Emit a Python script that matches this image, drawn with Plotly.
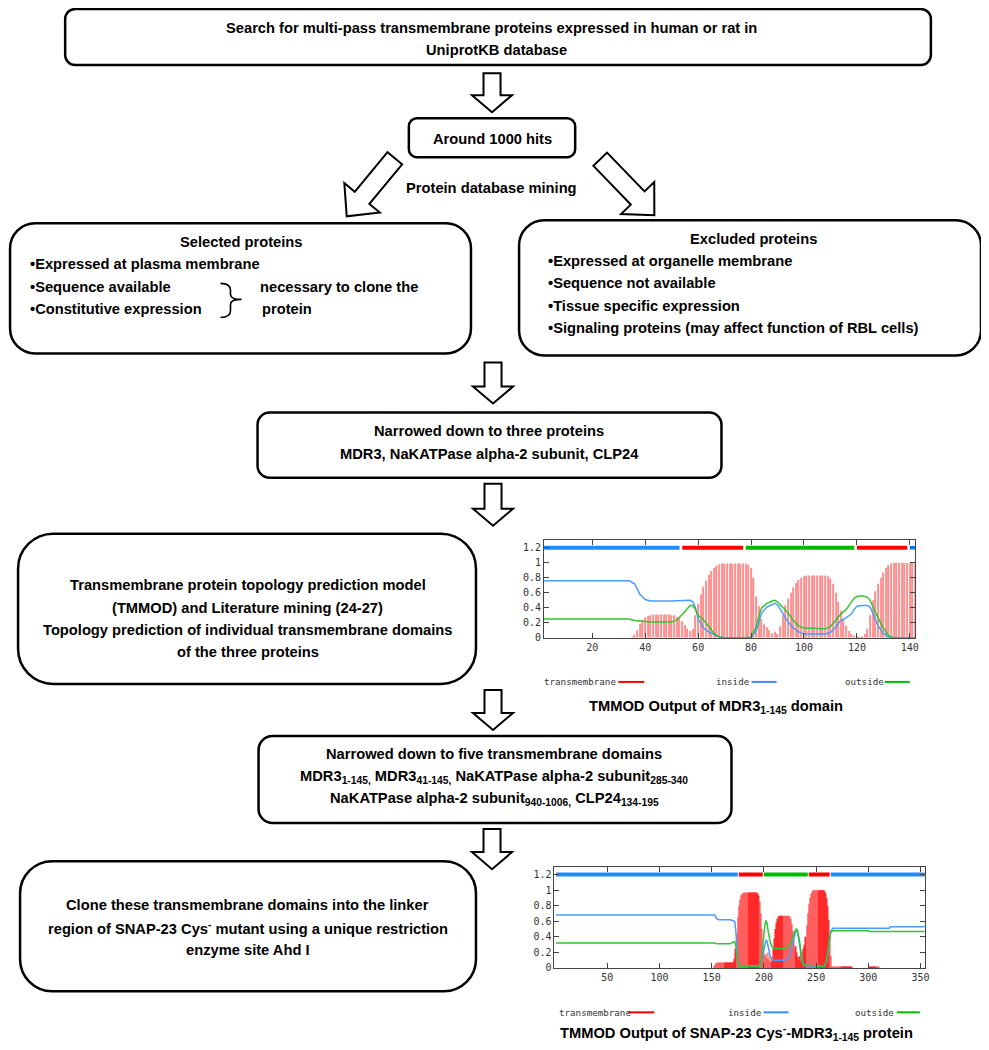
import math
import plotly.graph_objects as go

# The page is shown with an 8px body margin and a slight shrink, so the
# canvas axes are set so that layout coordinates equal picture pixels.
W, H = 989, 1050
OFF = 8
S = 989 / 995

# ---------------- TMMOD output: MDR3 1-145 ----------------
mdr3_res = list(range(1, 146))
mdr3_tm = [
    0, 0, 0, 0, 0, 0, 0, 0, 0, 0,
    0, 0, 0, 0, 0, 0, 0, 0, 0, 0,
    0, 0, 0, 0, 0, 0, 0, 0, 0, 0,
    0, 0, 0, 0, 0.01, 0.04, 0.10, 0.18, 0.24, 0.27,
    0.29, 0.30, 0.31, 0.31, 0.31, 0.31, 0.31, 0.31, 0.31, 0.30,
    0.30, 0.28, 0.26, 0.22, 0.17, 0.12, 0.09, 0.12, 0.30, 0.45,
    0.58, 0.68, 0.76, 0.84, 0.89, 0.93, 0.96, 0.98, 0.99, 0.99,
    0.99, 0.99, 0.99, 0.99, 0.99, 0.99, 0.99, 0.99, 0.97, 0.93,
    0.80, 0.55, 0.42, 0.25, 0.18, 0.14, 0.10, 0.06, 0.08, 0.05,
    0.15, 0.30, 0.43, 0.52, 0.60, 0.67, 0.73, 0.77, 0.80, 0.82,
    0.83, 0.83, 0.83, 0.83, 0.83, 0.83, 0.83, 0.83, 0.82, 0.79,
    0.72, 0.60, 0.48, 0.36, 0.25, 0.16, 0.09, 0.05, 0.03, 0.02,
    0.01, 0.02, 0.05, 0.12, 0.30, 0.50, 0.62, 0.72, 0.80, 0.87,
    0.93, 0.97, 0.99, 1.0, 1.0, 1.0, 1.0, 1.0, 1.0, 1.0,
    1.0, 1.0, 1.0, 1.0, 1.0,
]
mdr3_line_x = [1, 34, 36, 38, 40, 42, 50, 52, 54, 56,
               57, 58, 59, 60, 62, 64, 66, 68, 70, 78,
               80, 82, 83, 84, 86, 88, 89, 90, 92, 94,
               96, 98, 100, 108, 110, 112, 113, 114, 116, 118,
               119, 120, 122, 124, 125, 126, 127, 128, 130, 132,
               134, 145]
mdr3_inside = [0.76, 0.76, 0.72, 0.58, 0.51, 0.49, 0.49, 0.49, 0.50, 0.50,
               0.50, 0.48, 0.40, 0.25, 0.13, 0.08, 0.04, 0.01, 0.0, 0.0,
               0.0, 0.10, 0.22, 0.33, 0.41, 0.45, 0.46, 0.44, 0.32, 0.21,
               0.13, 0.08, 0.05, 0.05, 0.07, 0.14, 0.19, 0.23, 0.27, 0.32,
               0.38, 0.42, 0.43, 0.43, 0.41, 0.33, 0.24, 0.16, 0.06, 0.01,
               0.0, 0.0]
mdr3_outside = [0.25, 0.25, 0.23, 0.22, 0.21, 0.21, 0.21, 0.24, 0.31, 0.40,
                0.43, 0.43, 0.38, 0.30, 0.24, 0.15, 0.06, 0.01, 0.0, 0.0,
                0.01, 0.15, 0.30, 0.40, 0.46, 0.49, 0.50, 0.48, 0.40, 0.33,
                0.23, 0.16, 0.13, 0.12, 0.15, 0.24, 0.29, 0.32, 0.38, 0.48,
                0.53, 0.55, 0.56, 0.54, 0.50, 0.42, 0.34, 0.27, 0.13, 0.03,
                0.0, 0.0]
mdr3_seg_start = [1, 54, 78, 120, 140]
mdr3_seg_end = [53, 77, 119, 139, 145]
mdr3_seg_kind = ["inside", "transmembrane", "outside", "transmembrane", "inside"]

# ---------------- TMMOD output: SNAP-23 Cys- / MDR3 1-145 ----------------
snap_res = list(range(150, 316))
snap_tm = [
    0, 0, 0.02, 0.04, 0.06, 0.07, 0.07, 0.07, 0.07, 0.07,
    0.07, 0.07, 0.07, 0.07, 0.07, 0.07, 0.07, 0.07, 0.07, 0.07,
    0.07, 0.08, 0.12, 0.25, 0.45, 0.65, 0.80, 0.88, 0.93, 0.95,
    0.96, 0.97, 0.97, 0.97, 0.97, 0.97, 0.97, 0.97, 0.97, 0.97,
    0.97, 0.97, 0.97, 0.97, 0.96, 0.93, 0.85, 0.70, 0.50, 0.30,
    0.20, 0.15, 0.18, 0.12, 0.20, 0.10, 0.15, 0.08, 0.12, 0.25,
    0.38, 0.50, 0.58, 0.63, 0.66, 0.67, 0.67, 0.67, 0.67, 0.67,
    0.67, 0.67, 0.67, 0.67, 0.67, 0.66, 0.63, 0.57, 0.48, 0.36,
    0.28, 0.20, 0.14, 0.10, 0.15, 0.08, 0.20, 0.12, 0.25, 0.30,
    0.40, 0.55, 0.70, 0.82, 0.90, 0.95, 0.98, 1.0, 1.0, 1.0,
    1.0, 1.0, 1.0, 1.0, 1.0, 1.0, 1.0, 1.0, 0.99, 0.96,
    0.90, 0.80, 0.62, 0.40, 0.15, 0.02, 0.02, 0.02, 0.02, 0.02,
    0.02, 0.02, 0.02, 0.02, 0.02, 0.02, 0.02, 0.02, 0.02, 0.02,
    0.02, 0.02, 0.02, 0.02, 0.02, 0, 0, 0, 0, 0,
    0, 0, 0, 0, 0, 0, 0, 0, 0, 0,
    0, 0.02, 0.02, 0.02, 0.02, 0.02, 0.02, 0.02, 0.02, 0.02,
    0.02, 0, 0, 0, 0, 0,
]
snap_line_x = [1, 153, 155, 157, 168, 170, 172, 173, 174, 175,
               176, 177, 178, 196, 198, 200, 201, 202, 203, 204,
               206, 208, 210, 220, 224, 226, 228, 230, 231, 232,
               234, 236, 238, 258, 260, 262, 263, 264, 266, 300,
               301, 320, 321, 354]
snap_inside = [0.68, 0.68, 0.63, 0.62, 0.62, 0.61, 0.60, 0.50, 0.30, 0.12,
               0.05, 0.03, 0.03, 0.03, 0.10, 0.25, 0.33, 0.36, 0.34, 0.27,
               0.16, 0.11, 0.10, 0.10, 0.13, 0.22, 0.35, 0.45, 0.48, 0.47,
               0.32, 0.12, 0.03, 0.02, 0.08, 0.25, 0.40, 0.47, 0.51, 0.51,
               0.51, 0.51, 0.53, 0.53]
snap_outside = [0.32, 0.32, 0.31, 0.31, 0.31, 0.33, 0.34, 0.30, 0.18, 0.08,
                0.04, 0.02, 0.02, 0.02, 0.15, 0.45, 0.56, 0.61, 0.58, 0.48,
                0.34, 0.27, 0.25, 0.25, 0.28, 0.33, 0.42, 0.48, 0.50, 0.49,
                0.36, 0.15, 0.04, 0.02, 0.10, 0.30, 0.42, 0.46, 0.48, 0.48,
                0.47, 0.47, 0.47, 0.47]
snap_seg_start = [1, 176, 200, 243, 264]
snap_seg_end = [175, 199, 242, 263, 354]
snap_seg_kind = ["inside", "transmembrane", "outside", "transmembrane", "inside"]

BAND_COLORS = {"inside": "#1f8cff", "transmembrane": "#ff0000", "outside": "#00bb00"}
LINE_BLUE = "#4a9dff"
LINE_GREEN = "#33c433"
FONT = "Liberation Sans, Arial, sans-serif"
MONO = "DejaVu Sans Mono, monospace"


def xd(px):
    return (px / S - OFF) / W


def yd(py):
    return 1 - (py / S - OFF) / H


def rounded_box(x0, y0, x1, y1, r):
    k = 0.5523 * r
    return (
        f"M {x0 + r},{y0} L {x1 - r},{y0} "
        f"C {x1 - r + k},{y0} {x1},{y0 + r - k} {x1},{y0 + r} "
        f"L {x1},{y1 - r} "
        f"C {x1},{y1 - r + k} {x1 - r + k},{y1} {x1 - r},{y1} "
        f"L {x0 + r},{y1} "
        f"C {x0 + r - k},{y1} {x0},{y1 - r + k} {x0},{y1 - r} "
        f"L {x0},{y0 + r} "
        f"C {x0},{y0 + r - k} {x0 + r - k},{y0} {x0 + r},{y0} Z"
    )


def block_arrow(tail, tip, shaft=17, head=40, head_len=17):
    (x0, y0), (x1, y1) = tail, tip
    dx, dy = x1 - x0, y1 - y0
    L = math.hypot(dx, dy)
    ux, uy = dx / L, dy / L
    nx, ny = -uy, ux
    bx, by = x1 - ux * head_len, y1 - uy * head_len
    pts = [
        (x0 + nx * shaft / 2, y0 + ny * shaft / 2),
        (bx + nx * shaft / 2, by + ny * shaft / 2),
        (bx + nx * head / 2, by + ny * head / 2),
        (x1, y1),
        (bx - nx * head / 2, by - ny * head / 2),
        (bx - nx * shaft / 2, by - ny * shaft / 2),
        (x0 - nx * shaft / 2, y0 - ny * shaft / 2),
    ]
    return "M " + " L ".join(f"{x:.1f},{y:.1f}" for x, y in pts) + " Z"


fig = go.Figure()

# empty trace so the full-page "canvas" axes exist
fig.add_trace(go.Scatter(x=[], y=[], xaxis="x", yaxis="y", hoverinfo="skip"))


def add_tmmod(res, tm, line_x, inside, outside, starts, ends, kinds, xa, ya, bar_color, bar_width):
    fig.add_trace(go.Bar(x=res, y=tm, width=bar_width, marker=dict(color=bar_color, line=dict(width=0)),
                         xaxis=xa, yaxis=ya, hoverinfo="skip"))
    fig.add_trace(go.Scatter(x=line_x, y=inside, mode="lines", line=dict(color=LINE_BLUE, width=1.5),
                             xaxis=xa, yaxis=ya, hoverinfo="skip"))
    fig.add_trace(go.Scatter(x=line_x, y=outside, mode="lines", line=dict(color=LINE_GREEN, width=1.5),
                             xaxis=xa, yaxis=ya, hoverinfo="skip"))
    for kind, color in BAND_COLORS.items():
        xs, ys = [], []
        for s, e, k in zip(starts, ends, kinds):
            if k == kind:
                xs += [s, e, None]
                ys += [1.2, 1.2, None]
        fig.add_trace(go.Scatter(x=xs, y=ys, mode="lines", line=dict(color=color, width=4),
                                 xaxis=xa, yaxis=ya, hoverinfo="skip"))


add_tmmod(mdr3_res, mdr3_tm, mdr3_line_x, mdr3_inside, mdr3_outside,
          mdr3_seg_start, mdr3_seg_end, mdr3_seg_kind, "x2", "y2", "#ff9090", 0.45)
add_tmmod(snap_res, snap_tm, snap_line_x, snap_inside, snap_outside,
          snap_seg_start, snap_seg_end, snap_seg_kind, "x3", "y3", "#ff2a2a", 0.5)

# ---------------- flowchart boxes ----------------
boxes = [
    (65, 9, 929, 65, 10),
    (408, 118, 574, 157, 8),
    (10, 223, 470, 353, 25),
    (518, 220, 979, 355, 25),
    (257, 412, 720, 477, 12),
    (18, 533, 475, 683, 35),
    (258, 735, 730, 822, 14),
    (20, 860, 475, 990, 32),
]
shapes = []
for x0, y0, x1, y1, r in boxes:
    shapes.append(dict(type="path", path=rounded_box(x0, y0, x1, y1, r), xref="x", yref="y",
                       line=dict(color="black", width=2.5), fillcolor="white", layer="below"))

arrows = [
    ((491, 73), (491, 112), 17, 40, 17),
    ((394, 158), (346, 216), 19, 46, 24),
    ((599, 159), (653, 215), 19, 46, 24),
    ((492, 362), (492, 403), 17, 40, 17),
    ((492, 483), (492, 525), 17, 40, 17),
    ((492, 689), (492, 729), 17, 40, 17),
    ((491, 828), (491, 868), 17, 40, 17),
]
for tail, tip, sw, hw, hl in arrows:
    shapes.append(dict(type="path", path=block_arrow(tail, tip, sw, hw, hl), xref="x", yref="y",
                       line=dict(color="black", width=2), fillcolor="white"))

# brace in "Selected proteins"
shapes.append(dict(type="path", xref="x", yref="y", line=dict(color="black", width=1.6),
                   path="M 220,283 Q 230,283 230,290 L 230,294 Q 230,299 241,299 "
                        "Q 230,299 230,304 L 230,310 Q 230,317 220,317"))

# legend swatches under the TMMOD plots
legend_lines = [
    (617, 643, 681, "#ff0000"), (750, 775, 681, "#3a8cff"), (883, 908, 681, "#00bb00"),
    (627, 653, 1011, "#ff0000"), (762, 787, 1011, "#3a8cff"), (895, 918, 1011, "#00bb00"),
]
for x0, x1, y, c in legend_lines:
    shapes.append(dict(type="line", xref="x", yref="y", x0=x0, x1=x1, y0=y, y1=y,
                       line=dict(color=c, width=2)))

# ---------------- texts ----------------
texts = [
    (490, 28, "center", "Search for multi-pass transmembrane proteins expressed in human or rat in"),
    (495, 50, "center", "UniprotKB database"),
    (491, 139, "center", "Around 1000 hits"),
    (490, 188, "center", "Protein database mining"),
    (240, 242, "center", "Selected proteins"),
    (28, 264, "left", "•Expressed at plasma membrane"),
    (28, 287, "left", "•Sequence available"),
    (28, 309, "left", "•Constitutive expression"),
    (257, 287, "left", "necessary to clone the"),
    (259, 309, "left", "protein"),
    (752, 239, "center", "Excluded proteins"),
    (545, 261, "left", "•Expressed at organelle membrane"),
    (545, 283, "left", "•Sequence not available"),
    (545, 306, "left", "•Tissue specific expression"),
    (545, 328, "left", "•Signaling proteins (may affect function of RBL cells)"),
    (488, 430, "center", "Narrowed down to three proteins"),
    (488, 453, "center", "MDR3, NaKATPase alpha-2 subunit, CLP24"),
    (247, 584, "center", "Transmembrane protein topology prediction model"),
    (247, 607, "center", "(TMMOD) and Literature mining (24-27)"),
    (247, 629, "center", "Topology prediction of individual transmembrane domains"),
    (247, 651, "center", "of the three proteins"),
    (493, 753, "center", "Narrowed down to five transmembrane domains"),
    (493, 776, "center", "MDR3<sub>1-145,</sub> MDR3<sub>41-145,</sub> NaKATPase alpha-2 subunit<sub>285-340</sub>"),
    (493, 798, "center", "NaKATPase alpha-2 subunit<sub>940-1006,</sub> CLP24<sub>134-195</sub>"),
    (247, 904, "center", "Clone these transmembrane domains into the linker"),
    (247, 927, "center", "region of SNAP-23 Cys<sup>-</sup> mutant using a unique restriction"),
    (247, 949, "center", "enzyme site Ahd I"),
    (715, 706, "center", "TMMOD Output of MDR3<sub>1-145</sub> domain"),
    (735, 1032, "center", "TMMOD Output of SNAP-23 Cys<sup>-</sup>-MDR3<sub>1-145</sub> protein"),
]
annotations = []
for x, y, anchor, t in texts:
    annotations.append(dict(x=x, y=y, xref="x", yref="y", text=f"<b>{t}</b>", showarrow=False,
                            xanchor=anchor, yanchor="middle",
                            font=dict(family=FONT, size=14.7, color="black")))

legend_texts = [
    (541, 681, "transmembrane"), (713, 681, "inside"), (841, 681, "outside"),
    (556, 1011, "transmembrane"), (725, 1011, "inside"), (851, 1011, "outside"),
]
for x, y, t in legend_texts:
    annotations.append(dict(x=x, y=y, xref="x", yref="y", text=t, showarrow=False,
                            xanchor="left", yanchor="middle",
                            font=dict(family=MONO, size=9.2, color="#333")))

chart_axis = dict(showline=True, linecolor="#444", linewidth=1, mirror="ticks", ticks="inside",
                  ticklen=5, tickcolor="#444", showgrid=False, zeroline=False,
                  tickfont=dict(family=MONO, size=10, color="#333"), fixedrange=True)

fig.update_layout(
    width=W, height=H, margin=dict(l=0, r=0, t=0, b=0),
    paper_bgcolor="white", plot_bgcolor="white", showlegend=False,
    xaxis=dict(range=[OFF * S, (OFF + W) * S], domain=[0, 1], visible=False),
    yaxis=dict(range=[(OFF + H) * S, OFF * S], domain=[0, 1], visible=False),
    xaxis2=dict(chart_axis, domain=[xd(543), xd(913)], range=[1.8, 141.9], anchor="y2",
                tickvals=[20, 40, 60, 80, 100, 120, 140]),
    yaxis2=dict(chart_axis, domain=[yd(637), yd(539)], range=[0, 1.307], anchor="x2",
                tick0=0, dtick=0.2),
    xaxis3=dict(chart_axis, domain=[xd(553.3), xd(923.4)], range=[-0.5, 354.5], anchor="y3",
                tickvals=[50, 100, 150, 200, 250, 300, 350]),
    yaxis3=dict(chart_axis, domain=[yd(966.7), yd(865.7)], range=[0, 1.3], anchor="x3",
                tick0=0, dtick=0.2),
    barmode="overlay",
    shapes=shapes,
    annotations=annotations,
)

fig.write_html("out.html")
